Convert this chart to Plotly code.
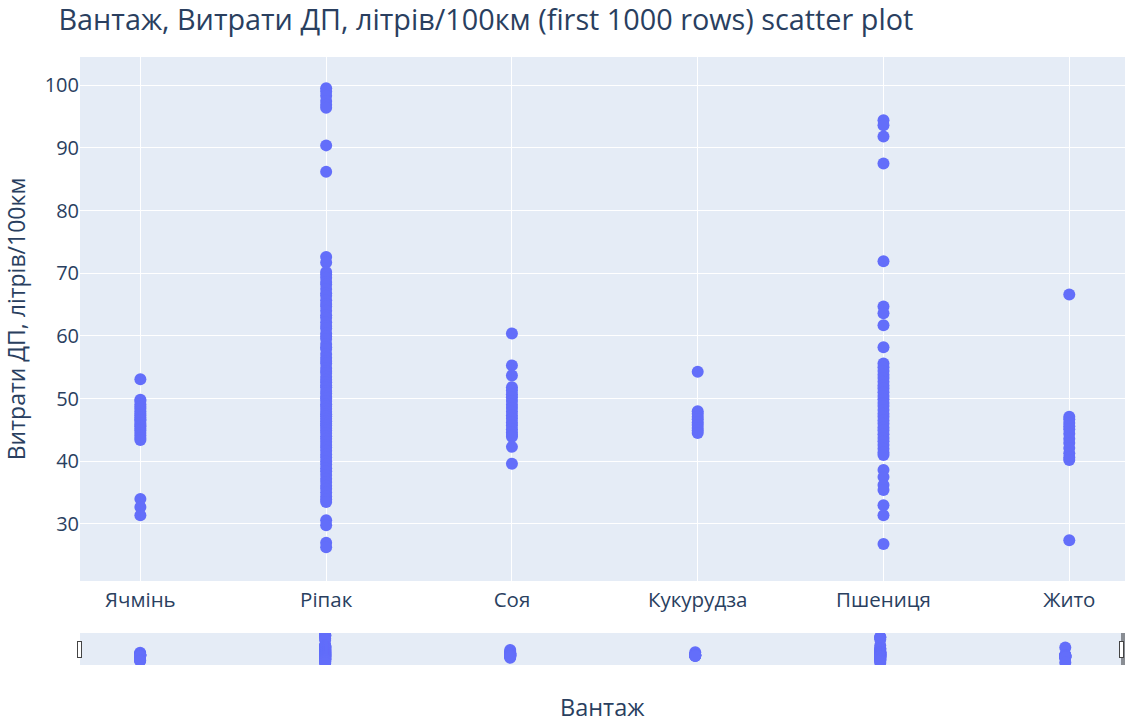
import plotly.graph_objects as go

# Fuel consumption (litres / 100 km) by cargo type
cargo_types = ["Ячмінь", "Ріпак", "Соя", "Кукурудза", "Пшениця", "Жито"]

barley = [53.1, 49.8, 49.6, 49.1, 48.7, 48.4, 48.0, 47.6, 47.3, 47.0, 46.7, 46.5,
          46.1, 45.8, 45.6, 45.2, 44.9, 44.5, 44.1, 43.7, 43.4, 34.0, 32.7, 31.4]
rapeseed = [99.5, 99.0, 98.3, 97.5, 96.9, 96.4, 90.4, 86.2, 72.6, 71.7, 70.2, 69.8,
            69.3, 68.6, 68.2, 67.5, 66.8, 66.4, 65.7, 65.1, 64.7, 64.0, 63.3, 62.9,
            62.2, 61.6, 61.2, 60.4, 59.9, 59.5, 58.7, 58.2, 57.9, 57.1, 56.5, 56.0,
            55.6, 54.9, 54.4, 54.1, 53.5, 53.0, 52.6, 52.1, 51.8, 51.2, 50.8, 50.3,
            50.0, 49.6, 49.1, 48.8, 48.4, 47.9, 47.5, 47.2, 46.8, 46.4, 46.0, 45.7,
            45.3, 44.9, 44.5, 44.0, 43.6, 43.1, 42.6, 42.2, 41.7, 41.1, 40.6, 40.0,
            39.5, 38.9, 38.4, 37.8, 37.2, 36.7, 36.1, 35.6, 35.0, 34.4, 33.9, 33.5,
            30.6, 29.8, 27.0, 26.3]
soy = [60.4, 55.3, 53.7, 51.8, 51.3, 50.7, 50.2, 49.6, 49.0, 48.5, 47.9, 47.3,
       46.8, 46.2, 45.7, 45.1, 44.6, 44.2, 43.9, 42.3, 39.6]
corn = [54.3, 48.0, 47.6, 47.1, 46.7, 46.2, 45.8, 45.3, 44.9, 44.5]
wheat = [94.4, 93.6, 91.8, 87.5, 71.9, 64.7, 63.6, 61.7, 58.2, 55.6, 55.0, 54.4,
         53.8, 53.3, 52.7, 52.1, 51.6, 51.0, 50.4, 49.9, 49.3, 48.8, 48.2, 47.6,
         47.1, 46.5, 46.0, 45.4, 44.9, 44.3, 43.7, 43.2, 42.6, 42.0, 41.4, 41.0,
         38.6, 37.5, 36.2, 35.4, 33.0, 31.4, 26.8]
rye = [66.6, 47.1, 46.7, 46.1, 45.6, 45.1, 44.4, 43.6, 42.9, 42.1, 41.3, 40.6,
       40.2, 27.4]

series = [barley, rapeseed, soy, corn, wheat, rye]
x_vals = [c for c, vals in zip(cargo_types, series) for _ in vals]
y_vals = [v for vals in series for v in vals]

fig = go.Figure(
    go.Scatter(
        x=x_vals,
        y=y_vals,
        mode="markers",
        marker=dict(color="#636efa", size=12),
        showlegend=False,
    )
)

fig.update_layout(
    template="plotly",
    width=1125,
    height=722,
    font=dict(family="Open Sans", color="#2a3f5f"),
    title=dict(
        text="Вантаж, Витрати ДП, літрів/100км (first 1000 rows) scatter plot",
        x=0.052,
        xanchor="left",
        y=0.972,
        yanchor="middle",
        font=dict(size=28.8),
    ),
    margin=dict(l=80, r=0, t=57, b=57),
    xaxis=dict(
        tickfont=dict(size=20.5),
        categoryorder="array",
        categoryarray=cargo_types,
        range=[-0.325, 5.30],
        # invisible outside ticks give extra room above the range slider
        ticks="outside",
        ticklen=37,
        tickcolor="rgba(0,0,0,0)",
        ticklabelstandoff=-37,
        rangeslider=dict(visible=True, thickness=0.0526),
    ),
    yaxis=dict(
        title=dict(text="Витрати ДП, літрів/100км", font=dict(size=23)),
        tickfont=dict(size=20),
        range=[20.9, 104.5],
    ),
    # x-axis caption placed below the range slider
    annotations=[
        dict(
            text="Вантаж",
            xref="paper",
            yref="paper",
            x=0.5,
            y=0,
            yshift=-126,
            xanchor="center",
            yanchor="middle",
            borderpad=0,
            showarrow=False,
            font=dict(size=23.5, color="#2a3f5f"),
        )
    ],
)

fig.write_html("out.html")
